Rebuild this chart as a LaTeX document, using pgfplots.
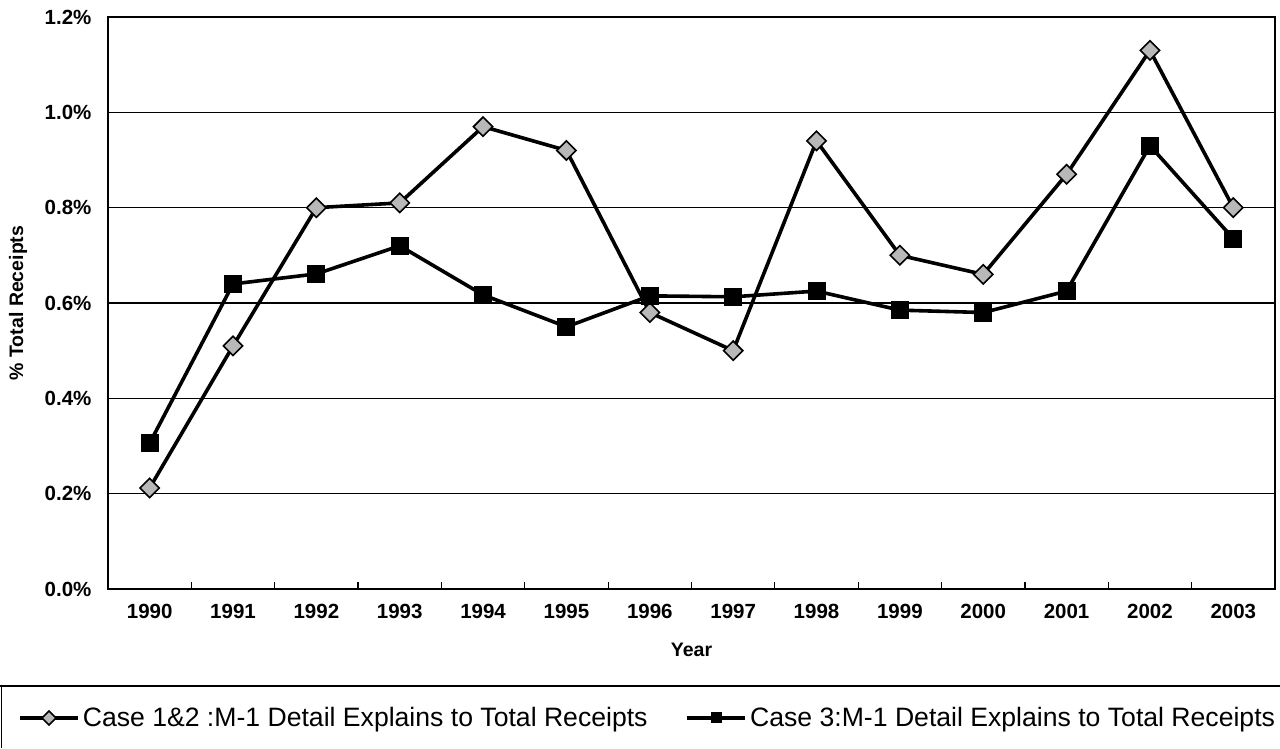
\documentclass[border=0pt]{standalone}
\usepackage{pgfplots}
\pgfplotsset{compat=1.18}
\usepackage{fontspec}
\setmainfont{Liberation Sans}
\definecolor{diafill}{gray}{0.72}
\begin{document}
\begin{tikzpicture}[x=1pt,y=1pt]
\useasboundingbox (0,0) rectangle (1280,748);
\begin{axis}[
  scale only axis, width=1167pt, height=572pt,
  anchor=south west, at={(108pt,159pt)},
  xmin=-0.5, xmax=13.5, ymin=0, ymax=1.2,
  xtick={0,...,13},
  xticklabels={1990,1991,1992,1993,1994,1995,1996,1997,1998,1999,2000,2001,2002,2003},
  minor xtick={0.5,1.5,...,12.5},
  ytick={0,0.2,0.4,0.6,0.8,1.0,1.2},
  yticklabel={\pgfmathprintnumber[fixed,fixed zerofill,precision=1]{\tick}\%},
  /pgf/number format/assume math mode=true,
  major tick length=0pt, minor tick length=7pt,
  tick align=inside, xtick pos=lower, ytick pos=left,
  minor tick style={line width=1.2pt, black},
  ymajorgrids, grid style={line width=1.3pt, black},
  axis line style={line width=1.6pt},
  ticklabel style={font=\fontsize{20.5}{24}\selectfont\bfseries},
  yticklabel style={xshift=-13pt},
  xticklabel style={yshift=-12pt},
  xlabel={Year}, ylabel={\% Total Receipts},
  label style={font=\fontsize{19.5}{23}\selectfont\bfseries},
  x label style={at={(axis description cs:0.5,-0.1066)}, anchor=center},
  y label style={at={(axis description cs:-0.0771,0.5)}, anchor=center},
  legend columns=2,
  legend style={at={(axis description cs:-0.0771,-0.2255)}, anchor=west,
    draw=none, fill=none, inner sep=0pt,
    font=\fontsize{26.6}{30}\selectfont,
    nodes={inner xsep=3pt, inner ysep=2pt},
    /tikz/every even column/.append style={column sep=35pt}},
  legend cell align=left,
  legend image code/.code={
    \draw[mark repeat=2,mark phase=2,#1,mark size=5pt] plot coordinates {(0pt,0pt) (29pt,0pt) (58pt,0pt)};
  },
]
\addplot[black, line width=3.6pt, mark=square*, mark size=6.8pt,
  mark options={rotate=45, fill=diafill, draw=black, line width=1.6pt}]
  coordinates {(0,0.212) (1,0.51) (2,0.80) (3,0.81) (4,0.97) (5,0.92) (6,0.58)
  (7,0.50) (8,0.94) (9,0.70) (10,0.66) (11,0.87) (12,1.13) (13,0.80)};
\addlegendentry{Case 1\&2 :M-1 Detail Explains to Total Receipts}
\addplot[black, line width=3.6pt, mark=square*, mark size=8.5pt,
  mark options={fill=black, draw=black, line width=1pt}]
  coordinates {(0,0.306) (1,0.64) (2,0.661) (3,0.72) (4,0.617) (5,0.55) (6,0.615)
  (7,0.613) (8,0.625) (9,0.585) (10,0.58) (11,0.625) (12,0.93) (13,0.735)};
\addlegendentry{Case 3:M-1 Detail Explains to Total Receipts}
\end{axis}
\draw[line width=1.6pt] (0,62) -- (1280,62);
\draw[line width=1.6pt] (1.5,62) -- (1.5,0);
\end{tikzpicture}
\end{document}
